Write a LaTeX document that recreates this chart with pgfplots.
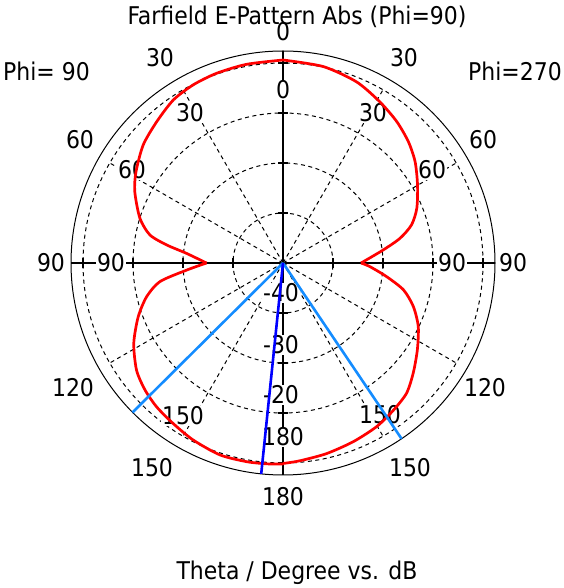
\documentclass[border=0pt]{standalone}
\usepackage{pgfplots}
\usepackage{pgfplotstable}
\pgfplotsset{compat=1.18}
\usepackage{fontspec}
\setmainfont{DejaVu Sans Condensed}
\definecolor{patred}{RGB}{255,0,0}
\definecolor{mainblue}{RGB}{0,0,255}
\definecolor{bwblue}{RGB}{20,140,255}

% Phi = 90 half (left side), theta in degrees, value in dB
\pgfplotstableread{
theta dB
0     -9.4
10.4  -9.6
19.3  -9.8
26.7  -10.1
33.9  -10.7
41.8  -12.1
49.8  -13.4
58.2  -15.4
64.3  -17.1
72.6  -20.0
78.1  -22.8
81.2  -26.5
84.3  -30.6
90    -34.7
94.2  -30.7
98.6  -25.1
103.9 -21.9
110.4 -19.1
118.3 -16.1
126.2 -13.7
132.6 -12.5
138.7 -11.7
145.6 -11.1
153.1 -10.3
161.8 -9.6
169.6 -9.6
175.4 -9.7
180   -9.8
}\leftdata

% Phi = 270 half (right side)
\pgfplotstableread{
theta dB
0     -9.4
11.6  -9.9
22.1  -10.9
31.0  -12.4
38.8  -13.7
45.9  -15.1
52.5  -16.7
59.9  -18.9
67.8  -21.1
73.5  -23.2
78.1  -26.1
82.6  -29.8
89    -33.9
90    -34.4
92.4  -32.6
97.5  -29.1
102.6 -25.3
108.5 -22.5
115.2 -20.1
122.9 -18.0
130.2 -15.9
136.5 -14.1
143.1 -13.2
150.2 -12.3
158.5 -11.6
167.1 -10.9
175.1 -10.3
180   -9.9
}\rightdata

% main lobe direction (Phi=90 side)
\pgfplotstableread{
theta dB
174.1 -50
174.1 -7.6
}\mainlobe
% 3 dB beamwidth limits
\pgfplotstableread{
theta dB
134.8 -50
134.8 -7.6
}\bwleft
\pgfplotstableread{
theta dB
146.0 -50
146.0 -7.6
}\bwright

\begin{document}
\fontsize{24.5}{28}\selectfont
\begin{tikzpicture}
\begin{axis}[
  width=564bp, height=588bp, scale only axis,
  xmin=-283, xmax=281, ymin=-325, ymax=263,
  hide axis, clip=false,
]
% dashed grid circles
\draw[black, line width=1bp, dash pattern=on 4bp off 3.5bp] (axis cs:0,0) circle[radius=50bp];
\draw[black, line width=1bp, dash pattern=on 4bp off 3.5bp] (axis cs:0,0) circle[radius=100bp];
\draw[black, line width=1bp, dash pattern=on 4bp off 3.5bp] (axis cs:0,0) circle[radius=150bp];
\draw[black, line width=1bp, dash pattern=on 4bp off 3.5bp] (axis cs:0,0) circle[radius=200bp];
% dashed spokes
\draw[black, line width=1bp, dash pattern=on 4bp off 3.5bp] (axis cs:0,0) -- ++(30:200bp);
\draw[black, line width=1bp, dash pattern=on 4bp off 3.5bp] (axis cs:0,0) -- ++(60:200bp);
\draw[black, line width=1bp, dash pattern=on 4bp off 3.5bp] (axis cs:0,0) -- ++(120:200bp);
\draw[black, line width=1bp, dash pattern=on 4bp off 3.5bp] (axis cs:0,0) -- ++(150:200bp);
\draw[black, line width=1bp, dash pattern=on 4bp off 3.5bp] (axis cs:0,0) -- ++(210:200bp);
\draw[black, line width=1bp, dash pattern=on 4bp off 3.5bp] (axis cs:0,0) -- ++(240:200bp);
\draw[black, line width=1bp, dash pattern=on 4bp off 3.5bp] (axis cs:0,0) -- ++(300:200bp);
\draw[black, line width=1bp, dash pattern=on 4bp off 3.5bp] (axis cs:0,0) -- ++(330:200bp);
% outer circle
\draw[black, line width=1bp] (axis cs:0,0) circle[radius=212bp];
% solid axes
\draw[black, line width=1.3bp] (axis cs:-212,0) -- (axis cs:212,0);
\draw[black, line width=1.3bp] (axis cs:0,-212) -- (axis cs:0,212);
% ticks on axes
\draw[black, line width=1.1bp] (axis cs:50,-5) -- (axis cs:50,5);
\draw[black, line width=1.1bp] (axis cs:100,-5) -- (axis cs:100,5);
\draw[black, line width=1.1bp] (axis cs:150,-5) -- (axis cs:150,5);
\draw[black, line width=1.1bp] (axis cs:200,-5) -- (axis cs:200,5);
\draw[black, line width=1.1bp] (axis cs:-50,-5) -- (axis cs:-50,5);
\draw[black, line width=1.1bp] (axis cs:-100,-5) -- (axis cs:-100,5);
\draw[black, line width=1.1bp] (axis cs:-150,-5) -- (axis cs:-150,5);
\draw[black, line width=1.1bp] (axis cs:-200,-5) -- (axis cs:-200,5);
\draw[black, line width=1.1bp] (axis cs:-5,50) -- (axis cs:5,50);
\draw[black, line width=1.1bp] (axis cs:-5,100) -- (axis cs:5,100);
\draw[black, line width=1.1bp] (axis cs:-5,150) -- (axis cs:5,150);
\draw[black, line width=1.1bp] (axis cs:-5,200) -- (axis cs:5,200);
\draw[black, line width=1.1bp] (axis cs:-5,-50) -- (axis cs:5,-50);
\draw[black, line width=1.1bp] (axis cs:-5,-100) -- (axis cs:5,-100);
\draw[black, line width=1.1bp] (axis cs:-5,-150) -- (axis cs:5,-150);
\draw[black, line width=1.1bp] (axis cs:-5,-200) -- (axis cs:5,-200);

% inner angle labels
\node[fill=white, inner sep=1pt] at (axis cs:0,173) {0};
\node[fill=white, inner sep=1pt] at (axis cs:-93,150) {30};
\node[fill=white, inner sep=1pt] at (axis cs:90,150) {30};
\node[fill=white, inner sep=1pt] at (axis cs:-151,93) {60};
\node[fill=white, inner sep=1pt] at (axis cs:149,93) {60};
\node[fill=white, inner sep=1pt] at (axis cs:-172,0) {90};
\node[fill=white, inner sep=1pt] at (axis cs:169,0) {90};
\node[fill=white, inner sep=1pt] at (axis cs:-100,-153) {150};
\node[fill=white, inner sep=1pt] at (axis cs:97,-152) {150};
\node[fill=white, inner sep=1pt] at (axis cs:0,-174) {180};
% dB labels
\node[fill=white, inner sep=1pt] at (axis cs:-2,-30) {-40};
\node[fill=white, inner sep=1pt] at (axis cs:-2,-82) {-30};
\node[fill=white, inner sep=1pt] at (axis cs:-2,-132) {-20};
% outer angle labels
\node at (axis cs:0,231) {0};
\node at (axis cs:-123,205) {30};
\node at (axis cs:121,205) {30};
\node at (axis cs:-203,123) {60};
\node at (axis cs:200,123) {60};
\node at (axis cs:-232,0) {90};
\node at (axis cs:230,0) {90};
\node at (axis cs:-210,-125) {120};
\node at (axis cs:202,-125) {120};
\node at (axis cs:-131,-205) {150};
\node at (axis cs:127,-205) {150};
\node at (axis cs:0,-234) {180};
% side and title texts
\node[anchor=west, inner sep=0pt] at (axis cs:-280,192) {Phi= 90};
\node[anchor=east, inner sep=0pt] at (axis cs:279,192) {Phi=270};
\node at (axis cs:14,246) {Farfield E-Pattern Abs (Phi=90)};
\node at (axis cs:14,-310) {Theta / Degree vs. dB};

% pattern: each half drawn as two smooth arcs meeting at the sharp null at 90 deg
\addplot[patred, line width=2.7bp, data cs=polar, smooth, tension=0.45,
  restrict expr to domain={\thisrow{theta}}{0:90}]
  table[x expr={90+\thisrow{theta}}, y expr={5*(\thisrow{dB}+50)}] {\leftdata};
\addplot[patred, line width=2.7bp, data cs=polar, smooth, tension=0.45,
  restrict expr to domain={\thisrow{theta}}{90:180}]
  table[x expr={90+\thisrow{theta}}, y expr={5*(\thisrow{dB}+50)}] {\leftdata};
\addplot[patred, line width=2.7bp, data cs=polar, smooth, tension=0.45,
  restrict expr to domain={\thisrow{theta}}{0:90}]
  table[x expr={90-\thisrow{theta}}, y expr={5*(\thisrow{dB}+50)}] {\rightdata};
\addplot[patred, line width=2.7bp, data cs=polar, smooth, tension=0.45,
  restrict expr to domain={\thisrow{theta}}{90:180}]
  table[x expr={90-\thisrow{theta}}, y expr={5*(\thisrow{dB}+50)}] {\rightdata};
% beam lines
\addplot[bwblue, line width=2.6bp, data cs=polar]
  table[x expr={90+\thisrow{theta}}, y expr={5*(\thisrow{dB}+50)}] {\bwleft};
\addplot[bwblue, line width=2.6bp, data cs=polar]
  table[x expr={90-\thisrow{theta}}, y expr={5*(\thisrow{dB}+50)}] {\bwright};
\addplot[mainblue, line width=2.6bp, data cs=polar]
  table[x expr={90+\thisrow{theta}}, y expr={5*(\thisrow{dB}+50)}] {\mainlobe};
\end{axis}
\pgfresetboundingbox
\path (current axis.south west) rectangle (current axis.north east);
\end{tikzpicture}
\end{document}
